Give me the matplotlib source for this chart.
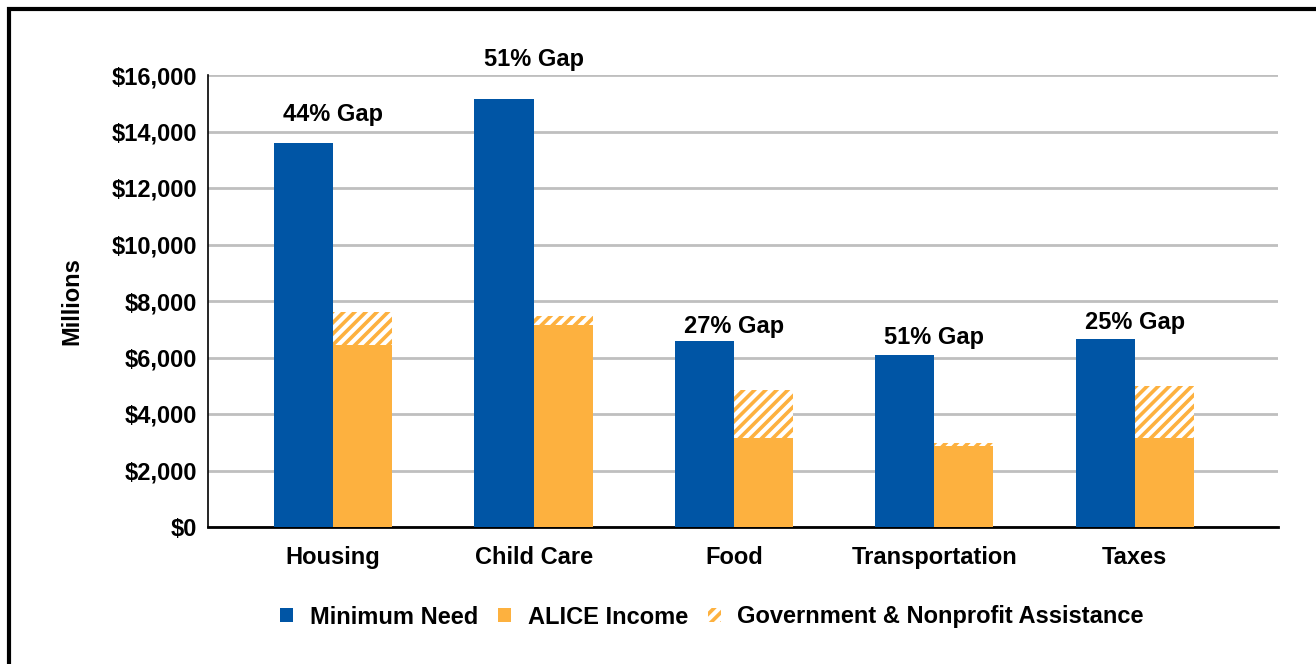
import matplotlib
matplotlib.use("Agg")
import matplotlib.pyplot as plt
import numpy as np
from matplotlib.patches import Patch, Rectangle
from matplotlib.ticker import FuncFormatter

categories = ["Housing", "Child Care", "Food", "Transportation", "Taxes"]
minimum_need = [13580, 15150, 6580, 6090, 6650]
alice_income = [6440, 7150, 3140, 2880, 3140]
assistance = [1180, 320, 1710, 100, 1860]
gap_labels = ["44% Gap", "51% Gap", "27% Gap", "51% Gap", "25% Gap"]
gap_label_y = [14600, 16550, 7100, 6700, 7230]

BLUE = "#0055A5"
ORANGE = "#FDB13F"
FS = 17

plt.rcParams["font.family"] = ["Liberation Sans", "DejaVu Sans"]
plt.rcParams["font.weight"] = "bold"
plt.rcParams["hatch.linewidth"] = 2.6

fig = plt.figure(figsize=(13.16, 6.64), dpi=100)
ax = fig.add_axes([208 / 1316, 1 - 527 / 664, (1278 - 208) / 1316, (527 - 75) / 664])

x = np.arange(len(categories))
w = 0.295
ax.bar(x - w / 2, minimum_need, width=w, color=BLUE, zorder=3)
ax.bar(x + w / 2, alice_income, width=w, color=ORANGE, zorder=3)
ax.bar(x + w / 2, assistance, width=w, bottom=alice_income, color="white",
       edgecolor=ORANGE, hatch="///", linewidth=0, zorder=3)

for xi, lab, yy in zip(x, gap_labels, gap_label_y):
    ax.text(xi, yy, lab, ha="center", va="center", fontsize=FS, fontweight="bold")

ax.set_ylim(0, 16000)
ax.set_xlim(-0.625, 4.715)
ax.set_yticks(np.arange(0, 16001, 2000))
ax.yaxis.set_major_formatter(FuncFormatter(lambda v, p: "${:,.0f}".format(v)))
ax.set_xticks(x)
ax.set_xticklabels(categories)
ax.tick_params(axis="both", length=0, labelsize=FS, pad=8)
ax.tick_params(axis="x", pad=14)
for t in ax.get_xticklabels() + ax.get_yticklabels():
    t.set_fontweight("bold")
ax.grid(axis="y", color="#BFBFBF", linewidth=2, zorder=0)
for s in ["top", "right"]:
    ax.spines[s].set_visible(False)
ax.spines["left"].set_linewidth(1.2)
ax.spines["bottom"].set_linewidth(2)
ax.set_ylabel("Millions", fontsize=FS, fontweight="bold", labelpad=20)

handles = [Patch(facecolor=BLUE), Patch(facecolor=ORANGE),
           Patch(facecolor="white", edgecolor=ORANGE, hatch="///", linewidth=0)]
fig.legend(handles, ["Minimum Need", "ALICE Income", "Government & Nonprofit Assistance"],
           loc="center", bbox_to_anchor=(712 / 1316, 1 - 617 / 664), ncol=3, frameon=False,
           fontsize=FS, handlelength=0.55, handleheight=0.55, handletextpad=0.7, columnspacing=0.85)

fig.patches.append(Rectangle((9 / 1316, -0.1), 1.2, 1 - 9 / 664 + 0.1, transform=fig.transFigure,
                             fill=False, edgecolor="black", linewidth=3))

fig.savefig("out.png", dpi=100, facecolor="white")
